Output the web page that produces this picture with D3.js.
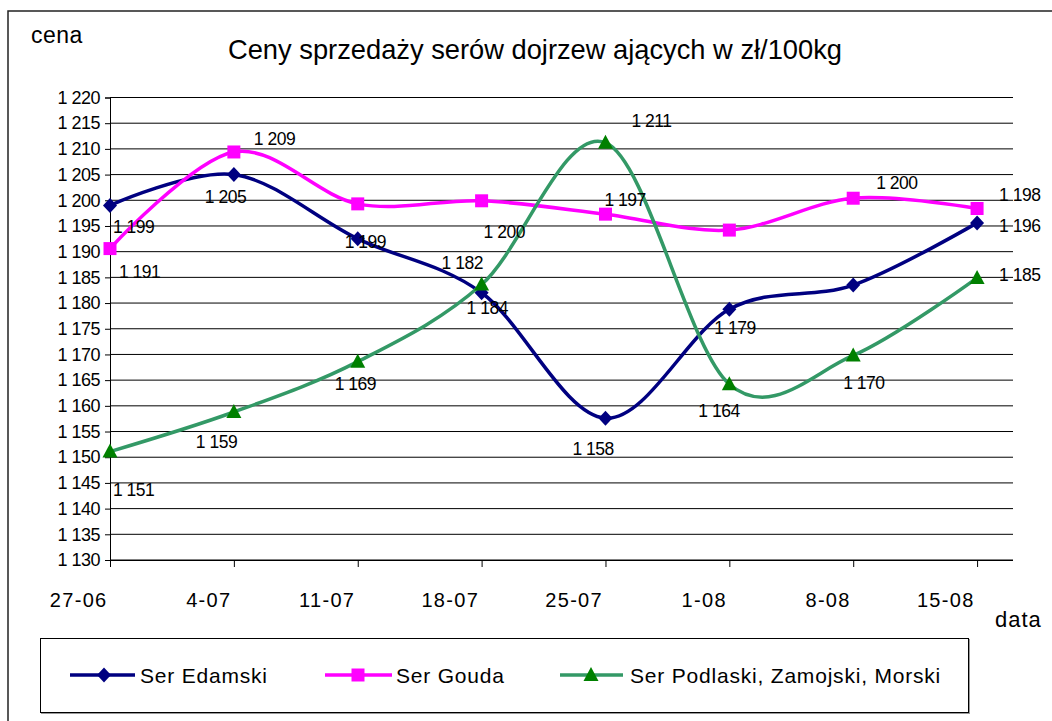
<!DOCTYPE html>
<html>
<head>
<meta charset="utf-8">
<script src="https://cdn.jsdelivr.net/npm/d3@7"></script>
<style>
  body { margin: 0; background: #fff; }
  svg { display: block; font-family: "Liberation Sans", Arial, sans-serif; }
</style>
</head>
<body>
<svg id="chart"></svg>
<script>
// Data
const dates = ["27-06", "4-07", "11-07", "18-07", "25-07", "1-08", "8-08", "15-08"]
const edamski = [1199, 1205, 1192.5, 1182, 1157.6, 1178.8, 1183.5, 1195.6]
const gouda = [1190.6, 1209.4, 1199.3, 1199.9, 1197.3, 1194.2, 1200.4, 1198.4]
const podlaski = [1151.1, 1158.8, 1168.6, 1183.6, 1211.2, 1164.2, 1169.8, 1184.9]
const seriesNames = ["Ser Edamski", "Ser Gouda", "Ser Podlaski, Zamojski, Morski"]
const yTicks = d3.range(1130, 1221, 5)

// Where each data label sits relative to its point (null = no label shown)
const labelOffsets = [
    [[3, 22], [-29, 22], null, [-40, -30], [-33, 31], [-15, 19], null, [22, 3]],
    [[9, 23], [20, -13], [-13, 38], [2, 31], [-1, -14], null, [23, -15], [22, -14]],
    [[3, 38], [-38, 30], [-23, 22], [-15, 23], [26, -22], [-31, 27], [-10, 28], [22, -3]]
]

const width = 1052, height = 721
const plot = { left: 110, right: 1013, top: 97.5, bottom: 560 }

const svg = d3.select('#chart').attr('width', width).attr('height', height)

// Chart frame
svg.append('path')
    .attr('d', `M8,${height} L8,11 L${width},11`)
    .attr('fill', 'none').attr('stroke', '#222').attr('stroke-width', 1.5)

svg.append('text').attr('x', 31).attr('y', 43).attr('font-size', 23).attr('letter-spacing', 0.5).text('cena')
svg.append('text').attr('x', 535).attr('y', 59).attr('text-anchor', 'middle')
    .attr('font-size', 28).attr('textLength', 614).attr('lengthAdjust', 'spacingAndGlyphs')
    .text('Ceny sprzedaży serów dojrzew ających w zł/100kg')

const x = d3.scaleLinear().domain([0, 7.29]).range([plot.left, plot.right])
const y = d3.scaleLinear().domain([1130, 1220]).range([plot.bottom, plot.top])
const fmt = v => d3.format(',')(Math.round(v)).replace(',', ' ')

// Gridlines
svg.append('g').selectAll('line').data(yTicks).join('line')
    .attr('x1', plot.left).attr('x2', plot.right)
    .attr('y1', d => y(d)).attr('y2', d => y(d))
    .attr('stroke', '#000').attr('stroke-width', 1)

// Y axis
const yAxis = svg.append('g').attr('transform', `translate(${plot.left},0)`)
    .call(d3.axisLeft(y).tickValues(yTicks).tickSize(5).tickPadding(5).tickFormat(fmt))
yAxis.select('.domain').attr('stroke', '#000')
yAxis.selectAll('.tick line').attr('stroke', '#000')
yAxis.selectAll('text').attr('font-size', 18).attr('fill', '#000')
    .attr('font-family', '"Liberation Sans", Arial, sans-serif').attr('letter-spacing', -0.5)

// X axis
const xAxis = svg.append('g').attr('transform', `translate(0,${plot.bottom})`)
    .call(d3.axisBottom(x).tickValues(d3.range(dates.length)).tickSize(7).tickFormat(i => dates[i]))
xAxis.select('.domain').attr('d', `M${plot.left},0.5H${plot.right}`).attr('stroke', '#000')
xAxis.selectAll('.tick line').attr('stroke', '#000')
xAxis.selectAll('text').attr('font-size', 20).attr('fill', '#000')
    .attr('font-family', '"Liberation Sans", Arial, sans-serif')
    .attr('text-anchor', 'end').attr('x', -3).attr('y', 47).attr('dy', 0).attr('letter-spacing', 1.3)

svg.append('text').attr('x', 995).attr('y', 627).attr('font-size', 22).attr('letter-spacing', 1).text('data')

// Series
const markerPaths = {
    diamond: 'M0,-7.5L7,0L0,7.5L-7,0Z',
    square: 'M-6.5,-6.5H6.5V6.5H-6.5Z',
    triangle: 'M0,-8L7.5,6L-7.5,6Z'
}
const series = [
    { name: seriesNames[0], values: edamski, line: '#000080', marker: '#000080', shape: 'diamond' },
    { name: seriesNames[1], values: gouda, line: '#ff00ff', marker: '#ff00ff', shape: 'square' },
    { name: seriesNames[2], values: podlaski, line: '#339966', marker: '#008000', shape: 'triangle' }
]

const line = d3.line().x((d, i) => x(i)).y(d => y(d)).curve(d3.curveCatmullRom.alpha(0))

series.forEach(s => {
    const g = svg.append('g')
    g.append('path').datum(s.values).attr('d', line)
        .attr('fill', 'none').attr('stroke', s.line).attr('stroke-width', 3.5)
    g.selectAll('path.m').data(s.values).join('path').attr('class', 'm')
        .attr('d', markerPaths[s.shape])
        .attr('transform', (d, i) => `translate(${x(i)},${y(d)})`)
        .attr('fill', s.marker)
})

// Data labels
series.forEach((s, si) => {
    svg.append('g').selectAll('text')
        .data(s.values.map((v, i) => ({ v, i, off: labelOffsets[si][i] })).filter(d => d.off))
        .join('text')
        .attr('x', d => x(d.i) + d.off[0])
        .attr('y', d => y(d.v) + d.off[1])
        .attr('dominant-baseline', 'central')
        .attr('font-size', 17.5).attr('letter-spacing', -0.5)
        .text(d => fmt(d.v))
})

// Legend
const legend = svg.append('g')
legend.append('rect').attr('x', 41.5).attr('y', 639.5).attr('width', 928).attr('height', 74)
    .attr('fill', 'none').attr('stroke', '#999').attr('stroke-width', 1)
legend.append('rect').attr('x', 40.5).attr('y', 638.5).attr('width', 928).attr('height', 74)
    .attr('fill', '#fff').attr('stroke', '#000').attr('stroke-width', 1)

const legendItems = [
    { x1: 70, x2: 135, mx: 104, tx: 140 },
    { x1: 325, x2: 392, mx: 358, tx: 396 },
    { x1: 560, x2: 623, mx: 591, tx: 630 }
]
const ly = 675
series.forEach((s, i) => {
    const it = legendItems[i]
    legend.append('line').attr('x1', it.x1).attr('x2', it.x2).attr('y1', ly).attr('y2', ly)
        .attr('stroke', s.line).attr('stroke-width', 3.5)
    legend.append('path').attr('d', markerPaths[s.shape])
        .attr('transform', `translate(${it.mx},${ly})`).attr('fill', s.marker)
    legend.append('text').attr('x', it.tx).attr('y', ly).attr('dominant-baseline', 'central')
        .attr('font-size', 21).attr('letter-spacing', 0.8).text(s.name)
})
</script>
</body>
</html>
